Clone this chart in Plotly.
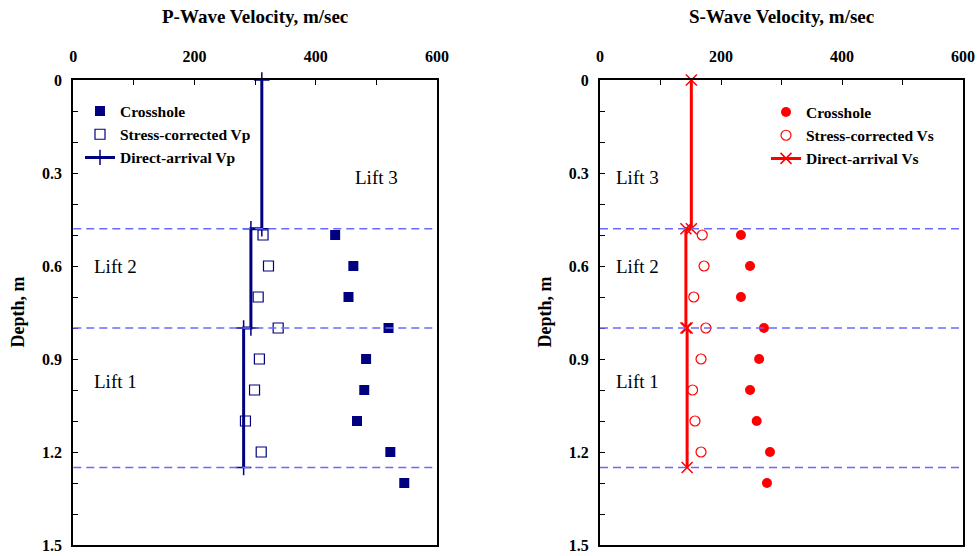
import plotly.graph_objects as go

# Measured depths (m)
depth_crosshole = [0.5, 0.6, 0.7, 0.8, 0.9, 1.0, 1.1, 1.2, 1.3]
depth_corrected = [0.5, 0.6, 0.7, 0.8, 0.9, 1.0, 1.1, 1.2]
depth_direct = [0.0, 0.48, 0.48, 0.8, 0.8, 1.25]

# P-wave velocities (m/sec)
vp_crosshole = [432, 462, 454, 520, 483, 480, 468, 523, 546]
vp_corrected = [313, 322, 305, 338, 307, 299, 284, 310]
vp_direct = [311, 311, 293, 293, 281, 281]

# S-wave velocities (m/sec)
vs_crosshole = [233, 248, 233, 271, 263, 248, 259, 281, 276]
vs_corrected = [169, 172, 155, 175, 167, 153, 157, 167]
vs_direct = [151, 151, 142, 142, 144, 144]

# Lift boundaries (m)
lift_bounds = [0.48, 0.8, 1.25]
lift_names = ["Lift 3", "Lift 2", "Lift 1"]
lift_label_depth = [0.316, 0.6, 0.972]

W, H = 977, 556
SERIF = "Liberation Serif"
NAVY = "#000080"
RED = "#FF0000"
DASH_BLUE = "#6A6AFF"

def px_x(p):
    return p / W

def px_y(p):
    return 1 - p / H

fig = go.Figure()

# P-wave panel
fig.add_trace(go.Scatter(
    x=vp_crosshole, y=depth_crosshole, mode="markers", name="Crosshole",
    marker=dict(symbol="square", size=10, color=NAVY),
    xaxis="x", yaxis="y", legend="legend", legendgroup="p1"))
fig.add_trace(go.Scatter(
    x=vp_corrected, y=depth_corrected, mode="markers", name="Stress-corrected Vp",
    marker=dict(symbol="square-open", size=10, color=NAVY, line=dict(width=1.2)),
    xaxis="x", yaxis="y", legend="legend", legendgroup="p2"))
fig.add_trace(go.Scatter(
    x=vp_direct, y=depth_direct, mode="lines+markers", name="Direct-arrival Vp",
    line=dict(color=NAVY, width=3), cliponaxis=False,
    marker=dict(symbol="cross-thin-open", size=11, color=NAVY, line=dict(width=1.5, color=NAVY)),
    xaxis="x", yaxis="y", legend="legend", legendgroup="p3"))

# S-wave panel
fig.add_trace(go.Scatter(
    x=vs_crosshole, y=depth_crosshole, mode="markers", name="Crosshole",
    marker=dict(symbol="circle", size=10, color=RED),
    xaxis="x2", yaxis="y2", legend="legend2", legendgroup="s1"))
fig.add_trace(go.Scatter(
    x=vs_corrected, y=depth_corrected, mode="markers", name="Stress-corrected Vs",
    marker=dict(symbol="circle-open", size=10, color=RED, line=dict(width=1.2)),
    xaxis="x2", yaxis="y2", legend="legend2", legendgroup="s2"))
fig.add_trace(go.Scatter(
    x=vs_direct, y=depth_direct, mode="lines+markers", name="Direct-arrival Vs",
    line=dict(color=RED, width=3), cliponaxis=False,
    marker=dict(symbol="x-thin-open", size=11, color=RED, line=dict(width=1.5, color=RED)),
    xaxis="x2", yaxis="y2", legend="legend2", legendgroup="s3"))

# Lift boundary lines
shapes = []
for xr, yr in (("x", "y"), ("x2", "y2")):
    for d in lift_bounds:
        shapes.append(dict(type="line", xref=f"{xr} domain", yref=yr,
                           x0=0, x1=1, y0=d, y1=d, layer="above",
                           line=dict(color=DASH_BLUE, width=1.5, dash="8px,5px")))

annotations = []
# Lift labels
lift_x_left = [462, 31, 31]
lift_x_right = [23, 23, 23]
for name, d, xl, xr in zip(lift_names, lift_label_depth, lift_x_left, lift_x_right):
    annotations.append(dict(x=xl, y=d, xref="x", yref="y", text=name, showarrow=False,
                            xanchor="left", yanchor="middle",
                            font=dict(family=SERIF, size=19, color="black")))
    annotations.append(dict(x=xr, y=d, xref="x2", yref="y2", text=name, showarrow=False,
                            xanchor="left", yanchor="middle",
                            font=dict(family=SERIF, size=19, color="black")))

# Panel titles
for text, cx in (("P-Wave Velocity, m/sec", 255), ("S-Wave Velocity, m/sec", 781.5)):
    annotations.append(dict(x=px_x(cx), y=px_y(16), xref="paper", yref="paper", text=f"<b>{text}</b>",
                            showarrow=False, xanchor="center", yanchor="middle",
                            font=dict(family=SERIF, size=19, color="black")))
# Depth axis titles
for cx in (18, 545):
    annotations.append(dict(x=px_x(cx), y=px_y(312.5), xref="paper", yref="paper", text="<b>Depth, m</b>",
                            showarrow=False, xanchor="center", yanchor="middle", textangle=-90,
                            font=dict(family=SERIF, size=18, color="black")))

tickfont = dict(family=SERIF, size=16, color="black", weight="bold")

def xaxis_cfg(domain, anchor):
    return dict(domain=domain, anchor=anchor, range=[0, 600], side="top", automargin=False,
                tickmode="linear", tick0=0, dtick=200, ticks="inside", ticklen=5, tickwidth=1.2,
                tickcolor="black", minor=dict(dtick=100, ticks="inside", ticklen=5, tickwidth=1.2, tickcolor="black"),
                showline=True, linecolor="black", linewidth=2, mirror=True,
                showgrid=False, zeroline=False, tickfont=tickfont, ticklabelstandoff=10)

def yaxis_cfg(domain, anchor):
    return dict(domain=domain, anchor=anchor, range=[1.5, 0], automargin=False,
                tickmode="linear", tick0=0, dtick=0.3, ticks="inside", ticklen=5, tickwidth=1.2,
                tickcolor="black", minor=dict(dtick=0.1, ticks="inside", ticklen=5, tickwidth=1.2, tickcolor="black"),
                showline=True, linecolor="black", linewidth=2, mirror=True,
                showgrid=False, zeroline=False, tickfont=tickfont, ticklabelstandoff=6)

ydom = [px_y(545), px_y(80)]
legend_font = dict(family=SERIF, size=15.5, color="black", weight="bold")

fig.update_layout(
    width=W, height=H,
    margin=dict(l=0, r=0, t=0, b=0, autoexpand=False),
    paper_bgcolor="white", plot_bgcolor="white",
    xaxis=xaxis_cfg([px_x(73.3), px_x(437)], "y"),
    yaxis=yaxis_cfg(ydom, "x"),
    xaxis2=xaxis_cfg([px_x(600), px_x(963)], "y2"),
    yaxis2=yaxis_cfg(ydom, "x2"),
    legend=dict(x=px_x(80), y=px_y(94.5), xanchor="left", yanchor="top",
                bgcolor="rgba(0,0,0,0)", borderwidth=0, font=legend_font, tracegroupgap=0),
    legend2=dict(x=px_x(766), y=px_y(95.5), xanchor="left", yanchor="top",
                 bgcolor="rgba(0,0,0,0)", borderwidth=0, font=legend_font, tracegroupgap=0),
    shapes=shapes,
    annotations=annotations,
    showlegend=True,
)

fig.write_html("out.html")
